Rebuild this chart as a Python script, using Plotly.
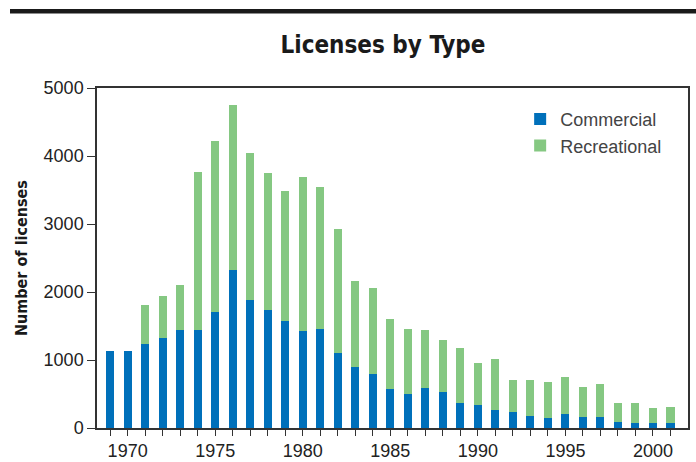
import plotly.graph_objects as go

years = list(range(1969, 2002))
commercial = [1130, 1130, 1230, 1320, 1435, 1435, 1700, 2320, 1880, 1730, 1570,
              1420, 1450, 1110, 890, 800, 570, 495, 585, 525, 365, 335, 260, 230,
              170, 140, 200, 160, 155, 95, 80, 70, 75]
total = [1130, 1130, 1815, 1935, 2110, 3770, 4225, 4755, 4050, 3755, 3490,
         3685, 3550, 2920, 2155, 2065, 1610, 1450, 1435, 1290, 1170, 950, 1010, 700,
         700, 670, 745, 610, 640, 375, 375, 290, 305]
recreational = [t - c for t, c in zip(total, commercial)]

y_ticks = [0, 1000, 2000, 3000, 4000, 5000]
x_ticks = [1970, 1975, 1980, 1985, 1990, 1995, 2000]

BLUE = "#0070BA"
GREEN = "#85C882"
AXIS = "#333333"
COND = "DejaVu Sans Condensed, Roboto Condensed, Liberation Sans Narrow, Arial Narrow, sans-serif"

fig = go.Figure()
fig.add_trace(go.Bar(x=years, y=commercial, name="Commercial",
                     marker=dict(color=BLUE, line=dict(width=0)), width=0.46))
fig.add_trace(go.Bar(x=years, y=recreational, name="Recreational",
                     marker=dict(color=GREEN, line=dict(width=0)), width=0.46))

fig.update_layout(
    width=696, height=462,
    barmode="stack",
    plot_bgcolor="white", paper_bgcolor="white",
    margin=dict(l=97, r=8, t=88, b=34, autoexpand=False),
    font=dict(family="Liberation Sans", color=AXIS, size=17),
    showlegend=True,
    legend=dict(x=0.716, y=0.962, xanchor="left", yanchor="top",
                bgcolor="rgba(0,0,0,0)", traceorder="normal",
                font=dict(size=18, color="#444444"), itemwidth=30,
                tracegroupgap=0),
    title=dict(text="<b>Licenses by Type</b>", x=383 / 696, xanchor="center",
               y=1 - 45 / 462, yanchor="middle",
               font=dict(family=COND, size=24, color="#1a1a1a")),
    xaxis=dict(range=[1968.25, 2002.0], tickmode="array", tickvals=years,
               ticktext=[str(y) if y in x_ticks else "" for y in years],
               ticks="outside", ticklen=6, tickwidth=1.2, tickcolor=AXIS,
               showline=True, linecolor=AXIS, linewidth=1.5, mirror=True,
               showgrid=False, zeroline=False, automargin=False,
               tickfont=dict(size=18, color="#222222")),
    yaxis=dict(range=[0, 5000], tickmode="array", tickvals=y_ticks,
               ticks="outside", ticklen=8, tickwidth=1.2, tickcolor=AXIS,
               showline=True, linecolor=AXIS, linewidth=1.5, mirror=True,
               showgrid=False, zeroline=False, automargin=False,
               tickfont=dict(size=18, color="#222222")),
)

fig.add_annotation(text="<b>Number of licenses</b>", textangle=-90,
                   xref="paper", yref="paper", x=(21 - 97) / 591, y=0.5,
                   xanchor="center", yanchor="middle", showarrow=False,
                   font=dict(family=COND, size=16, color="#1a1a1a"))

fig.add_shape(type="rect", xref="paper", yref="paper",
              x0=(10 - 97) / 591, x1=(696 - 97) / 591 + 0.02,
              y0=(428 - 13.5) / 340, y1=(428 - 9) / 340,
              fillcolor="#1a1a1a", line=dict(width=0), layer="above")

fig.write_html("out.html", config={"displayModeBar": False},
               post_script="document.body.style.margin='0';document.body.style.overflow='hidden';")
